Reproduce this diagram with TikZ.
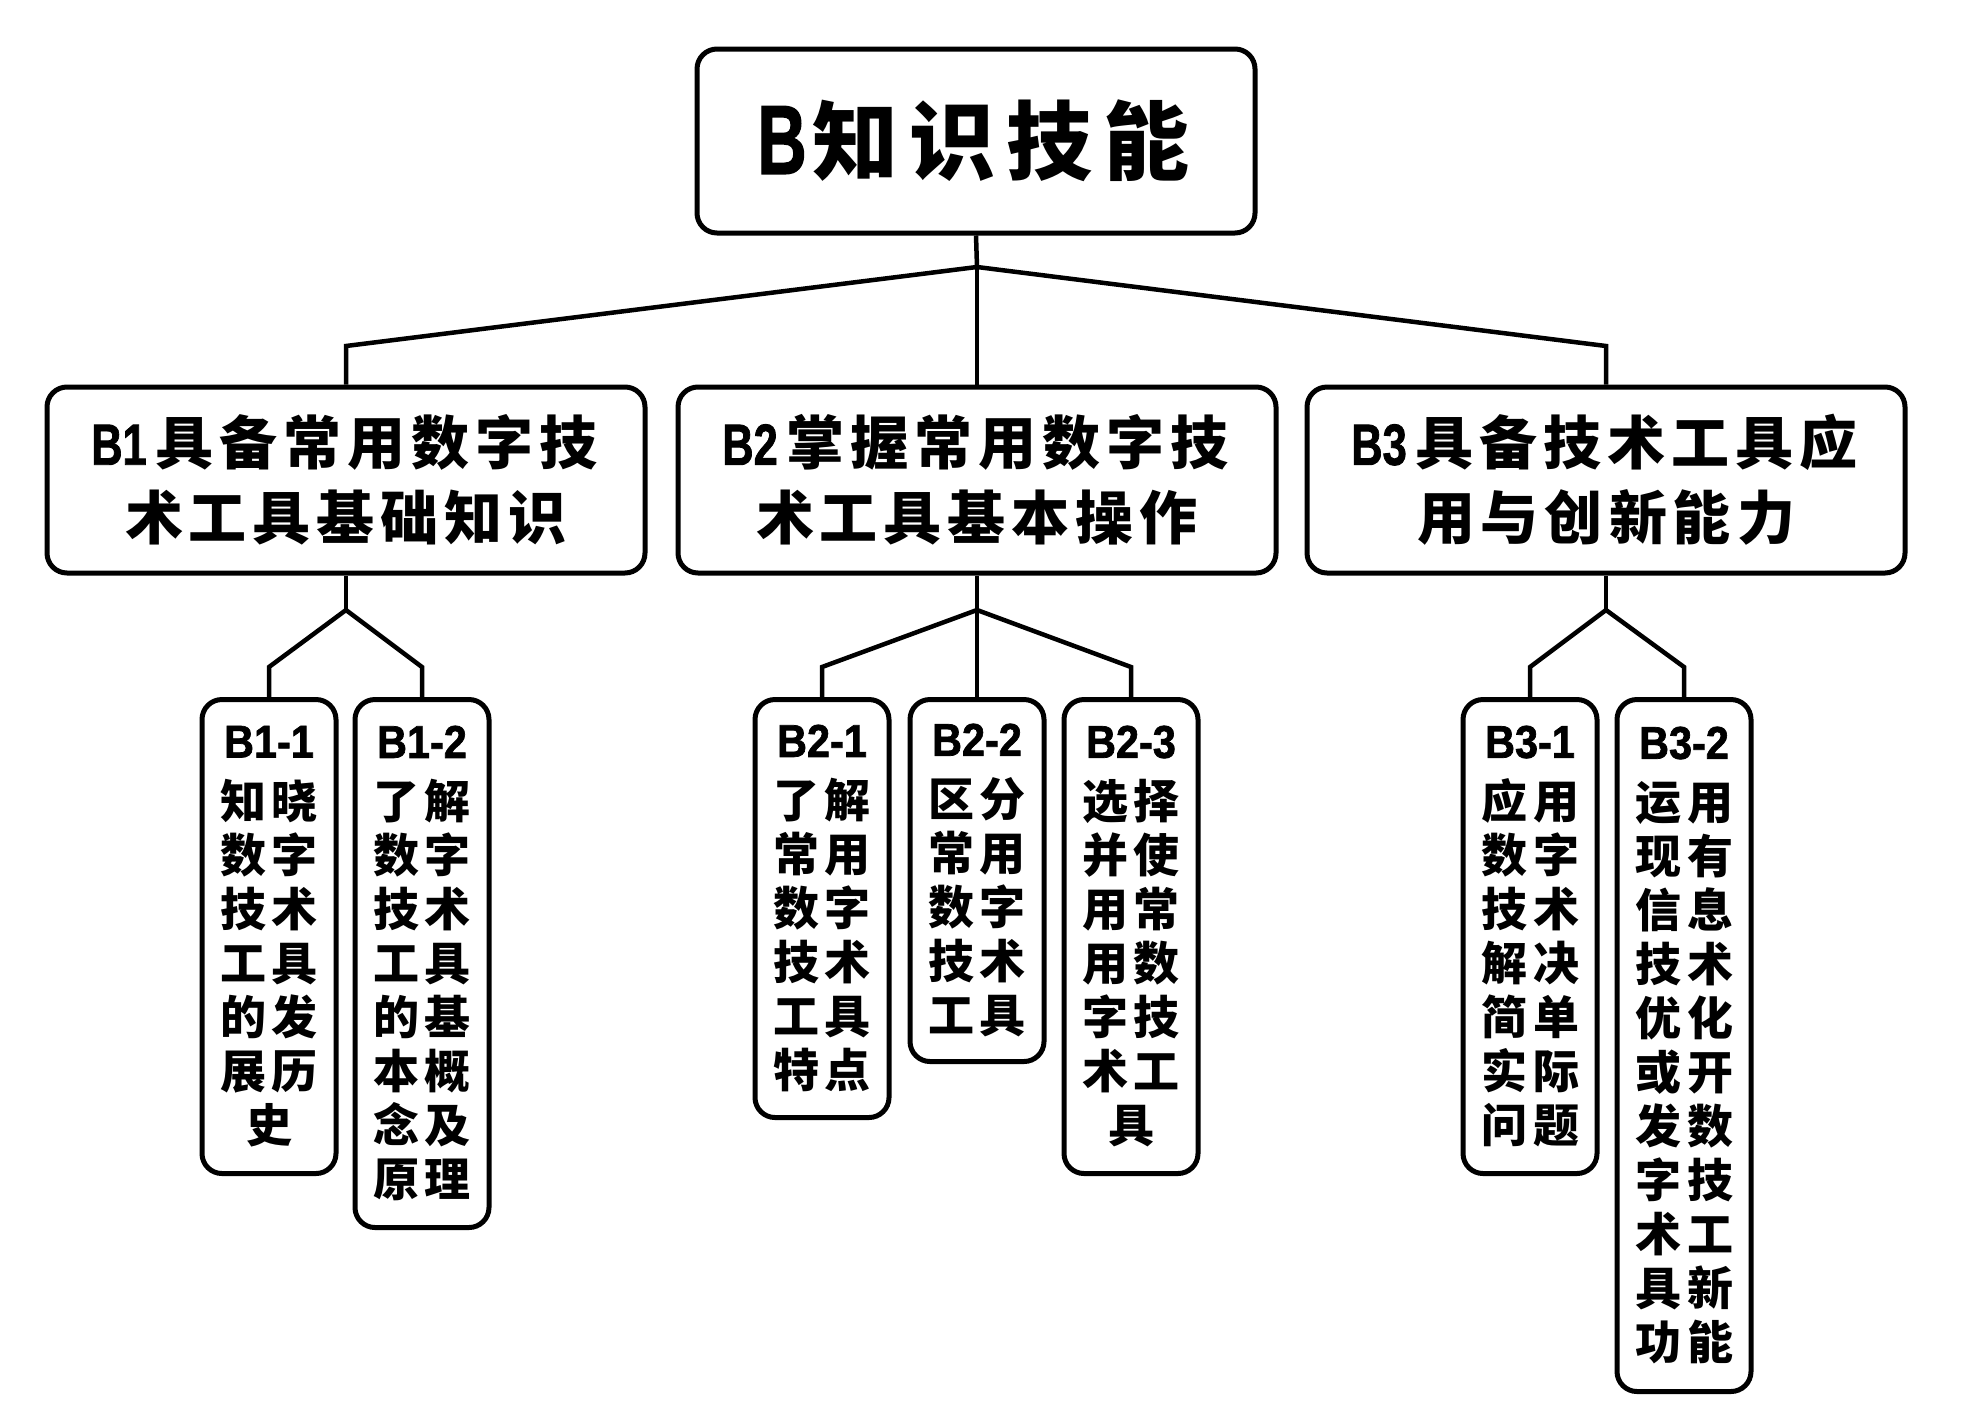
\documentclass[tikz,border=0pt]{standalone}
\usepackage{fontspec}
\usepackage{graphicx}
\newfontfamily\cjk{Noto Sans CJK SC}
\newfontfamily\lat{Liberation Sans}[FakeBold=1.6]
\newlength\cw
\def\spc#1{\ifx\relax#1\else\makebox[\cw]{#1}\expandafter\spc\fi}
\newcommand\latb[3]{\scalebox{#1}[1]{\lat\bfseries\fontsize{#2}{#2}\selectfont #3}}
\newcommand\crow[2]{\makebox[52pt]{#1}\makebox[52pt]{#2}}
\tikzset{
  box/.style={draw=black, line width=5pt, rounded corners=20pt, fill=white, inner sep=0pt, align=center},
  rootbox/.style={box, minimum width=558pt, minimum height=184pt, font=\cjk\bfseries\fontsize{86}{100}\selectfont},
  midbox/.style={box, minimum width=598pt, minimum height=186pt, font=\cjk\bfseries\fontsize{58}{75}\selectfont},
  kidbox/.style={box, minimum width=134pt, font=\cjk\bfseries\fontsize{46}{54}\selectfont},
  link/.style={line width=4.5pt, line join=miter}
}
\begin{document}
\begin{tikzpicture}[x=1pt,y=-1pt]
\fill[white] (0,0) rectangle (1969,1406);
\useasboundingbox (0,0) rectangle (1969,1406);

% root
\node[rootbox] (root) at (976,141) {\latb{0.7}{98}{B}\setlength\cw{97pt}\spc 知识技能\relax};

% level 1
\node[midbox] (b1) at (346,480) {\setlength\cw{64pt}\latb{0.75}{58}{B1}\hspace{6pt}\spc 具备常用数字技\relax\\\setlength\cw{64pt}\spc 术工具基础知识\relax};
\node[midbox] (b2) at (977,480) {\setlength\cw{64pt}\latb{0.75}{58}{B2}\hspace{6pt}\spc 掌握常用数字技\relax\\\setlength\cw{64pt}\spc 术工具基本操作\relax};
\node[midbox] (b3) at (1606,480) {\setlength\cw{64pt}\latb{0.75}{58}{B3}\hspace{6pt}\spc 具备技术工具应\relax\\\setlength\cw{64pt}\spc 用与创新能力\relax};

% level 2
\node[kidbox, minimum height=474pt, anchor=north] (b11) at (269,697) {\latb{0.9}{46}{B1-1}\\[7pt]\crow{知}{晓}\\\crow{数}{字}\\\crow{技}{术}\\\crow{工}{具}\\\crow{的}{发}\\\crow{展}{历}\\史};
\node[kidbox, minimum height=528pt, anchor=north] (b12) at (422,697) {\latb{0.9}{46}{B1-2}\\[7pt]\crow{了}{解}\\\crow{数}{字}\\\crow{技}{术}\\\crow{工}{具}\\\crow{的}{基}\\\crow{本}{概}\\\crow{念}{及}\\\crow{原}{理}};

\node[kidbox, minimum height=418pt, anchor=north] (b21) at (822,697) {\latb{0.9}{46}{B2-1}\\[7pt]\crow{了}{解}\\\crow{常}{用}\\\crow{数}{字}\\\crow{技}{术}\\\crow{工}{具}\\\crow{特}{点}};
\node[kidbox, minimum height=362pt, anchor=north] (b22) at (977,697) {\latb{0.9}{46}{B2-2}\\[7pt]\crow{区}{分}\\\crow{常}{用}\\\crow{数}{字}\\\crow{技}{术}\\\crow{工}{具}};
\node[kidbox, minimum height=474pt, anchor=north] (b23) at (1131,697) {\latb{0.9}{46}{B2-3}\\[7pt]\crow{选}{择}\\\crow{并}{使}\\\crow{用}{常}\\\crow{用}{数}\\\crow{字}{技}\\\crow{术}{工}\\具};

\node[kidbox, minimum height=474pt, anchor=north] (b31) at (1530,697) {\latb{0.9}{46}{B3-1}\\[7pt]\crow{应}{用}\\\crow{数}{字}\\\crow{技}{术}\\\crow{解}{决}\\\crow{简}{单}\\\crow{实}{际}\\\crow{问}{题}};
\node[kidbox, minimum height=692pt, anchor=north] (b32) at (1684,697) {\latb{0.9}{46}{B3-2}\\[7pt]\crow{运}{用}\\\crow{现}{有}\\\crow{信}{息}\\\crow{技}{术}\\\crow{优}{化}\\\crow{或}{开}\\\crow{发}{数}\\\crow{字}{技}\\\crow{术}{工}\\\crow{具}{新}\\\crow{功}{能}};

% junctions
\coordinate (j0) at (977,267);
\coordinate (c1) at (346,346);
\coordinate (c3) at (1606,346);
\coordinate (j1) at (346,610);
\coordinate (j2) at (977,610);
\coordinate (j3) at (1606,610);
\coordinate (k11) at (269,667);
\coordinate (k12) at (422,667);
\coordinate (k21) at (822,667);
\coordinate (k23) at (1131,667);
\coordinate (k31) at (1530,667);
\coordinate (k32) at (1684,667);

\draw[link] (root.south) -- (j0);
\draw[link] (j0) -- (c1) -- (b1.north);
\draw[link] (j0) -- (b2.north);
\draw[link] (j0) -- (c3) -- (b3.north);

\draw[link] (b1.south) -- (j1);
\draw[link] (j1) -- (k11) -- (b11.north);
\draw[link] (j1) -- (k12) -- (b12.north);

\draw[link] (b2.south) -- (j2);
\draw[link] (j2) -- (k21) -- (b21.north);
\draw[link] (j2) -- (b22.north);
\draw[link] (j2) -- (k23) -- (b23.north);

\draw[link] (b3.south) -- (j3);
\draw[link] (j3) -- (k31) -- (b31.north);
\draw[link] (j3) -- (k32) -- (b32.north);
\end{tikzpicture}
\end{document}
